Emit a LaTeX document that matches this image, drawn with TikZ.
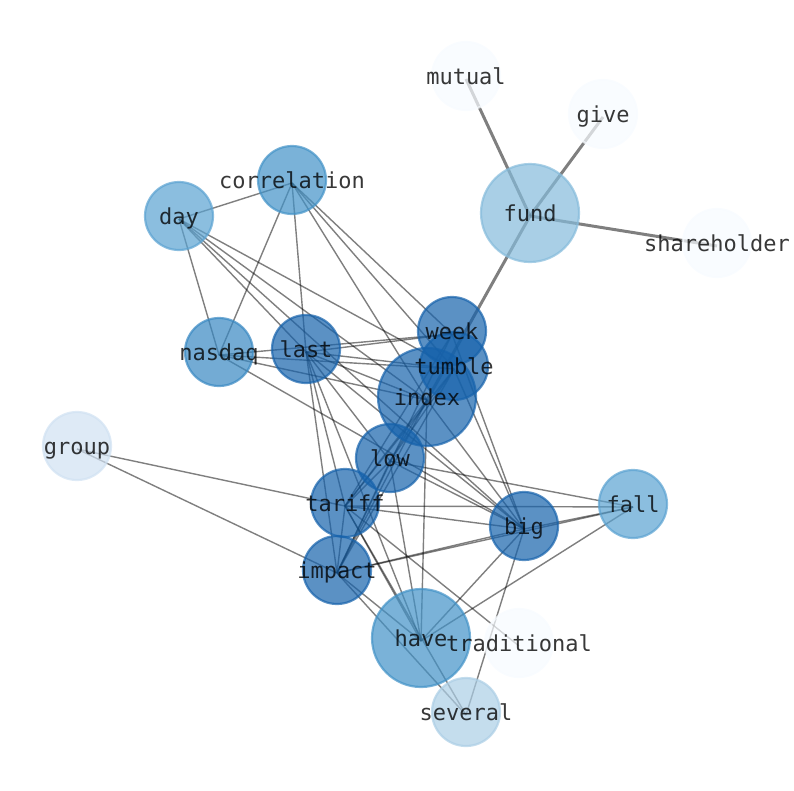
\documentclass[tikz,border=0pt]{standalone}
\usepackage{fontspec}
\newfontfamily\wordfont{DejaVu Sans Mono}
\pgfdeclarelayer{edges}
\pgfdeclarelayer{discs}
\pgfsetlayers{edges,discs,main}
\begin{document}
\begin{tikzpicture}[x=1pt, y=-1pt,
  word/.style={inner sep=0pt, text height=16.4pt, text depth=5pt, yshift=-3pt,
    font=\wordfont\fontsize{22}{26}\selectfont, text=black, text opacity=0.78},
  disc/.style={line width=2.2pt, fill opacity=0.7, draw opacity=0.7},
  link/.style={black, opacity=0.5, line width=1.4pt},
  fundlink/.style={black, opacity=0.5, line width=3pt}]
\definecolor{BlueZero}{RGB}{247,251,255}
\definecolor{BlueGroup}{RGB}{208,225,242}
\definecolor{BlueSev}{RGB}{171,206,229}
\definecolor{BlueFund}{RGB}{133,187,219}
\definecolor{BlueDay}{RGB}{90,162,209}
\definecolor{BlueCor}{RGB}{66,146,199}
\definecolor{BlueNas}{RGB}{56,136,194}
\definecolor{BlueTop}{RGB}{22,98,171}
\useasboundingbox (0,0) rectangle (794,790);
% words, discs first and labels on top
\foreach \n/\x/\y/\r/\c in {mutual/466/76/34/BlueZero, give/603/114/34/BlueZero,
    fund/530/213/49/BlueFund, shareholder/717/243/34/BlueZero,
    correlation/292/180/34/BlueCor, day/179/216/34/BlueDay,
    week/452/331/34/BlueTop, tumble/454/366/34/BlueTop, index/427/397/49/BlueTop,
    last/306/349/34/BlueTop, nasdaq/219/352/34/BlueNas, group/77/446/34/BlueGroup,
    low/390/458/34/BlueTop, tariff/345/503/34/BlueTop, fall/633/504/34/BlueDay,
    big/524/526/34/BlueTop, impact/337/570/34/BlueTop, have/421/638/49/BlueCor,
    traditional/519/643/34/BlueZero, several/466/712/34/BlueSev}{
\begin{pgfonlayer}{discs}
\draw[disc, draw=\c, fill=\c] (\x,\y) circle[radius=\r pt];
\end{pgfonlayer}
\node[word] (\n) at (\x,\y) {\n};
}
% co-occurrence links
\begin{pgfonlayer}{edges}
\foreach \a/\b in {fund/mutual, fund/give, fund/shareholder, fund/index}{
\draw[fundlink] (\a.center) -- (\b.center);
}
\foreach \a/\b in {day/correlation, day/nasdaq, day/last, day/tumble, day/index, day/big,
    correlation/nasdaq, correlation/last, correlation/index, correlation/tumble, correlation/week,
    nasdaq/week, nasdaq/tumble, nasdaq/index, nasdaq/big,
    last/week, last/tumble, last/index, last/low, last/big, last/tariff, last/impact, last/have,
    week/big, week/tariff, week/impact,
    tumble/big, tumble/tariff, tumble/impact, tumble/low,
    index/big, index/have, index/low, index/tariff, index/impact,
    low/fall, low/big, low/have, low/tariff, low/impact,
    tariff/fall, tariff/big, tariff/have, tariff/traditional, tariff/several, tariff/group, tariff/impact,
    impact/big, impact/fall, impact/have, impact/several, impact/group,
    big/fall, big/have, big/several, fall/have}{
\draw[link] (\a.center) -- (\b.center);
}
\end{pgfonlayer}
\end{tikzpicture}
\end{document}
